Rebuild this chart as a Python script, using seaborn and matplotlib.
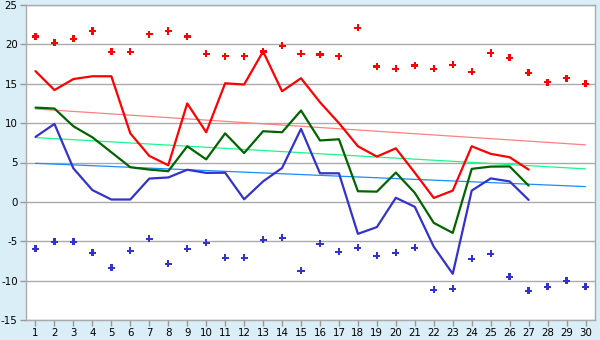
import numpy as np
import pandas as pd
import matplotlib
matplotlib.use("Agg")
import matplotlib.pyplot as plt
import seaborn as sns

# Daily temperatures for one month
days = list(range(1, 31))

record_max = [21.0, 20.2, 20.7, 21.7, 19.05, 19.05, 21.3, 21.7, 21.0, 18.8,
              18.5, 18.5, 19.1, 19.8, 18.8, 18.7, 18.5, 22.1, 17.2, 16.9,
              17.3, 16.9, 17.4, 16.5, 18.9, 18.3, 16.4, 15.2, 15.7, 15.0]
record_min = [-5.97, -5.08, -5.08, -6.48, -8.38, -6.22, -4.7, -7.87, -5.97, -5.2,
              -7.1, -7.1, -4.83, -4.57, -8.76, -5.33, -6.35, -5.84, -6.86, -6.48,
              -5.84, -11.17, -11.05, -7.24, -6.6, -9.52, -11.3, -10.8, -10.03, -10.8]

obs_days = list(range(1, 28))
t_max = [16.6, 14.2, 15.6, 15.95, 15.95, 8.7, 5.84, 4.65, 12.5, 8.84,
         15.06, 14.9, 19.1, 14.05, 15.7, 12.65, 10.0, 7.06, 5.75, 6.8,
         3.7, 0.5, 1.43, 7.06, 6.1, 5.67, 4.1]
t_mean = [11.97, 11.85, 9.6, 8.2, 6.3, 4.4, 4.1, 3.9, 7.06, 5.4,
          8.7, 6.2, 8.97, 8.84, 11.6, 7.8, 7.95, 1.35, 1.3, 3.72,
          1.14, -2.67, -3.94, 4.19, 4.48, 4.5, 2.07]
t_min = [8.25, 9.9, 4.25, 1.5, 0.3, 0.3, 2.96, 3.1, 4.08, 3.68,
         3.7, 0.33, 2.6, 4.3, 9.27, 3.63, 3.63, -4.06, -3.2, 0.52,
         -0.63, -5.7, -9.14, 1.43, 2.98, 2.6, 0.25]

# Long-term normals across the month (first and last day)
normal_days = [1, 30]
normal_max = [11.8, 7.24]
normal_mean = [8.17, 4.19]
normal_min = [4.9, 1.94]

y_ticks = [-15, -10, -5, 0, 5, 10, 15, 20, 25]

sns.set_style("white")
plt.rcParams["font.family"] = ["DejaVu Sans"]
plt.rcParams["axes.unicode_minus"] = False

bg = "#d9eef6"
fig = plt.figure(figsize=(6.0, 3.4), dpi=100, facecolor=bg)
ax = fig.add_axes([26 / 600, 1 - 320 / 340, 569 / 600, 315 / 340])
ax.set_facecolor("white")

for y in y_ticks:
    ax.axhline(y, color="#aaaaaa", lw=1.0, zorder=0)

# normals
sns.lineplot(x=normal_days, y=normal_max, color="#ff8080", lw=0.9, ax=ax)
sns.lineplot(x=normal_days, y=normal_mean, color="#1ff58a", lw=0.9, ax=ax)
sns.lineplot(x=normal_days, y=normal_min, color="#1a8cff", lw=0.9, ax=ax)

# observations
sns.lineplot(x=obs_days, y=t_min, color="#3333cc", lw=1.6, ax=ax)
sns.lineplot(x=obs_days, y=t_mean, color="#006400", lw=1.6, ax=ax)
sns.lineplot(x=obs_days, y=t_max, color="#ff0000", lw=1.6, ax=ax)

# records
sns.scatterplot(x=days, y=record_max, marker="P", s=26, color="#ff0000",
                edgecolor="none", ax=ax, zorder=5)
sns.scatterplot(x=days, y=record_min, marker="P", s=26, color="#3333cc",
                edgecolor="none", ax=ax, zorder=5)

ax.set_xlim(0.5, 30.5)
ax.set_ylim(-15, 25)
ax.set_xticks(days)
ax.set_xticklabels([str(d) for d in days])
ax.set_yticks(y_ticks)
ax.set_yticklabels([str(v) for v in y_ticks])
ax.tick_params(axis="both", length=4, width=1, color="#999999",
               labelsize=7.4, labelcolor="black", pad=2, direction="out",
               bottom=True, left=True)
for sp in ax.spines.values():
    sp.set_color("#aaaaaa")
    sp.set_linewidth(1.0)
    sp.set_visible(True)
ax.set_xlabel("")
ax.set_ylabel("")

fig.savefig("out.png", dpi=100, facecolor=bg)
